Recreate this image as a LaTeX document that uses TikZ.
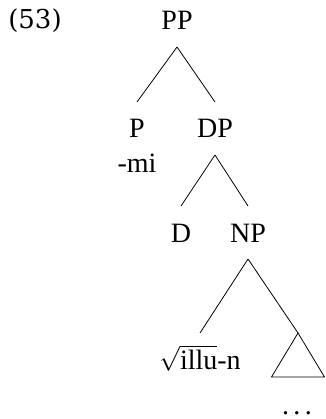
\documentclass[tikz,border=0pt]{standalone}
\usepackage{fontspec}
\setmainfont{Liberation Serif}
\newfontfamily\exfont{DejaVu Serif}
\tikzstyle{every picture}=[x=1pt, y=-1pt, line width=0.8pt]
\tikzstyle{cat}=[inner sep=0pt, outer ysep=17pt, text height=19pt, text depth=0pt,%
	anchor=base, font=\fontsize{28}{30}\selectfont]

\begin{document}
\begin{tikzpicture}
\useasboundingbox (0,0) rectangle (325,419);
\node[anchor=base, font=\exfont\fontsize{26}{28}\selectfont] (exno) at (35,29) {(53)};
\node[cat] (pp) at (177,30) {PP};
\node[cat] (p) at (137,138) {P};
\node[cat] (dp) at (215,138) {DP};
\node[cat] (mi) at (137,173) {-mi};
\node[cat] (d) at (181,242) {D};
\node[cat] (np) at (248,242) {NP};
\node[cat] (root) at (200,369) {$\sqrt{\mbox{illu}}$-n};
\coordinate (tri) at (298,333);
\node[cat] (dots) at (297,414) {.\hspace{4.5pt}.\hspace{4.5pt}.};
\draw (pp.south) -- (p.north);
\draw (pp.south) -- (dp.north);
\draw (dp.south) -- (d.north);
\draw (dp.south) -- (np.north);
\draw (np.south) -- (root.north);
\draw (np.south) -- (tri);
\draw (tri) -- ++(-26.5,44) -- ++(53,0) -- cycle;
\end{tikzpicture}
\end{document}
